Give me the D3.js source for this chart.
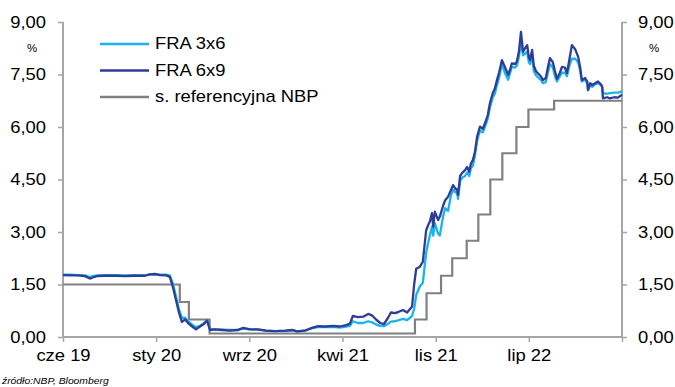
<!DOCTYPE html>
<html><head><meta charset="utf-8">
<script src="https://cdn.jsdelivr.net/npm/d3@7"></script>
<style>
body{margin:0;background:#fff;}
svg{display:block;font-family:"Liberation Sans",Arial,sans-serif;}
</style></head>
<body><svg id="c" width="675" height="387"></svg>
<script>
const xTickDates = ["2019-06-10","2020-01-21","2020-09-02","2021-04-15","2021-11-26","2022-07-09","2023-02-19"];
const xTickLabels = ["cze 19","sty 20","wrz 20","kwi 21","lis 21","lip 22",""];
const yTicks = [0,1.5,3,4.5,6,7.5,9];
const seriesNames = ["FRA 3x6","FRA 6x9","s. referencyjna NBP"];

const dates = ["2019-06-10","2019-06-27","2019-07-16","2019-08-02","2019-08-14","2019-08-21","2019-08-31","2019-09-19","2019-10-14","2019-11-07","2019-12-01","2019-12-25","2020-01-06","2020-01-18","2020-01-30","2020-02-14","2020-02-23","2020-03-02","2020-03-09","2020-03-16","2020-03-23","2020-03-31","2020-04-07","2020-04-17","2020-04-26","2020-05-06","2020-05-16","2020-05-23","2020-05-30","2020-06-11","2020-06-28","2020-07-17","2020-08-06","2020-08-18","2020-09-04","2020-09-23","2020-10-12","2020-11-03","2020-11-27","2020-12-16","2020-12-26","2021-01-14","2021-01-31","2021-02-15","2021-03-04","2021-03-23","2021-04-09","2021-04-24","2021-05-03","2021-05-10","2021-05-22","2021-06-04","2021-06-16","2021-06-25","2021-07-05","2021-07-15","2021-07-24","2021-08-03","2021-08-10","2021-08-20","2021-08-29","2021-09-08","2021-09-18","2021-09-25","2021-09-30","2021-10-05","2021-10-10","2021-10-19","2021-10-26","2021-11-03","2021-11-08","2021-11-12","2021-11-17","2021-11-20","2021-11-24","2021-12-02","2021-12-06","2021-12-14","2021-12-19","2021-12-26","2022-01-02","2022-01-07","2022-01-12","2022-01-17","2022-01-19","2022-01-24","2022-01-29","2022-02-05","2022-02-10","2022-02-15","2022-02-19","2022-02-24","2022-03-01","2022-03-06","2022-03-13","2022-03-20","2022-03-28","2022-04-01","2022-04-06","2022-04-13","2022-04-18","2022-04-23","2022-04-28","2022-05-05","2022-05-12","2022-05-20","2022-05-25","2022-05-29","2022-06-06","2022-06-10","2022-06-15","2022-06-20","2022-06-25","2022-06-30","2022-07-05","2022-07-09","2022-07-12","2022-07-17","2022-07-21","2022-07-26","2022-07-31","2022-08-07","2022-08-12","2022-08-19","2022-08-24","2022-08-29","2022-09-05","2022-09-10","2022-09-15","2022-09-22","2022-09-27","2022-10-04","2022-10-09","2022-10-16","2022-10-21","2022-10-29","2022-11-05","2022-11-10","2022-11-14","2022-11-22","2022-11-27","2022-11-29","2022-12-04","2022-12-09","2022-12-16","2022-12-23","2022-12-30","2023-01-02","2023-01-04","2023-01-14","2023-01-21","2023-01-31","2023-02-09","2023-02-19"];

const fra6x9 = [1.77,1.76,1.76,1.74,1.67,1.70,1.74,1.75,1.75,1.74,1.75,1.75,1.79,1.80,1.77,1.76,1.72,1.40,1.05,0.70,0.43,0.50,0.40,0.30,0.22,0.30,0.38,0.47,0.20,0.22,0.20,0.18,0.20,0.26,0.22,0.22,0.18,0.17,0.18,0.20,0.16,0.18,0.26,0.31,0.30,0.32,0.30,0.34,0.38,0.60,0.57,0.58,0.66,0.62,0.50,0.40,0.37,0.55,0.70,0.68,0.72,0.77,0.70,0.80,0.87,1.50,1.95,2.01,2.15,3.05,3.20,3.30,3.54,3.15,3.58,3.34,3.44,3.75,3.91,4.01,4.20,4.34,4.25,4.20,4.06,4.60,4.69,4.77,4.86,4.72,4.95,5.06,5.30,5.72,6.01,5.95,6.20,6.35,6.68,6.97,7.10,7.34,7.55,7.91,7.72,7.49,7.65,7.82,7.80,7.87,8.15,8.72,8.15,8.25,8.34,8.00,7.91,8.20,7.75,7.60,7.53,7.45,7.34,7.40,7.70,7.97,7.85,7.60,7.38,7.55,7.72,7.70,7.54,8.00,8.34,8.22,8.01,7.70,7.34,7.40,7.30,7.06,7.25,7.20,7.25,7.30,7.22,7.15,6.82,6.85,6.82,6.85,6.84,6.92];

const fra3x6 = [1.78,1.78,1.77,1.76,1.71,1.74,1.76,1.77,1.77,1.76,1.77,1.76,1.79,1.79,1.78,1.78,1.76,1.50,1.15,0.80,0.55,0.55,0.45,0.35,0.28,0.32,0.40,0.48,0.22,0.22,0.21,0.20,0.21,0.24,0.22,0.21,0.18,0.17,0.17,0.19,0.16,0.18,0.25,0.28,0.28,0.29,0.27,0.30,0.32,0.45,0.40,0.40,0.45,0.42,0.36,0.32,0.31,0.38,0.44,0.45,0.48,0.52,0.48,0.55,0.60,0.80,1.20,1.45,1.55,2.40,2.70,2.90,3.15,2.90,3.25,2.95,2.90,3.45,3.68,3.60,4.05,4.20,4.15,4.10,3.95,4.45,4.55,4.60,4.70,4.60,4.82,4.90,5.20,5.60,5.90,5.85,6.10,6.25,6.55,6.85,6.95,7.20,7.40,7.80,7.55,7.35,7.55,7.72,7.70,7.75,8.00,8.45,8.05,8.10,8.15,7.85,7.80,8.05,7.60,7.48,7.42,7.35,7.25,7.28,7.55,7.80,7.70,7.45,7.30,7.45,7.55,7.55,7.45,7.80,7.95,7.95,7.85,7.60,7.30,7.35,7.25,7.05,7.20,7.15,7.22,7.25,7.20,7.15,6.97,6.95,6.97,6.98,6.98,7.02];

const nbpDates = ["2019-06-10","2020-03-18","2020-04-09","2020-05-29","2021-10-07","2021-11-04","2021-12-09","2022-01-05","2022-02-09","2022-03-09","2022-04-07","2022-05-06","2022-06-09","2022-07-08","2022-09-08","2023-02-19"];
const nbpRate = [1.50,1.00,0.50,0.10,0.50,1.25,1.75,2.25,2.75,3.50,4.50,5.25,6.00,6.50,6.75,6.75];

const colors = ["#19B4EC","#2E3E96","#808080"];
const axisColor = "#A6A6A6";
const SX = 1.15; // horizontal text stretch seen in the reference

const parse = d3.timeParse("%Y-%m-%d");
const svg = d3.select("#c");
const L = 63, R = 622, T = 22, B = 337;
const x = d3.scaleTime().domain([parse(xTickDates[0]), parse(xTickDates[xTickDates.length-1])]).range([L, R]);
const y = d3.scaleLinear().domain([0, 9]).range([B, T]);
const fmt = d => d3.format(".2f")(d).replace(".", ",");

function stretch(sel) {
  sel.each(function() {
    const t = d3.select(this);
    const ax = +t.attr("x") || 0;
    t.attr("transform", `translate(${ax},0) scale(${SX},1) translate(${-ax},0)`);
  });
}

const gl = svg.append("g").attr("transform", `translate(${L},0)`)
  .call(d3.axisLeft(y).tickValues(yTicks).tickSize(5).tickPadding(12).tickFormat(fmt));
const gr = svg.append("g").attr("transform", `translate(${R},0)`)
  .call(d3.axisRight(y).tickValues(yTicks).tickSize(5).tickPadding(11).tickFormat(fmt));
const gb = svg.append("g").attr("transform", `translate(0,${B})`)
  .call(d3.axisBottom(x).tickValues(xTickDates.map(parse)).tickSize(5).tickPadding(8)
    .tickFormat((d,i) => xTickLabels[i]));
[gl, gr, gb].forEach(g => {
  g.select(".domain").attr("stroke", axisColor).attr("stroke-width", 2);
  g.selectAll(".tick line").attr("stroke", axisColor).attr("stroke-width", 1.5);
  g.selectAll(".tick text").attr("fill", "#000").style("font-size", "16px")
    .style("font-family", "'Liberation Sans',Arial,sans-serif").call(stretch);
});
gb.select(".domain").attr("d", `M${L},0H${R}`);
gl.select(".domain").attr("d", `M0,${T}V${B}`);
gr.select(".domain").attr("d", `M0,${T}V${B}`);

svg.append("text").attr("x", 32).attr("y", 52).attr("text-anchor", "middle").style("font-size", "10px").text("%").call(stretch);
svg.append("text").attr("x", 654).attr("y", 52).attr("text-anchor", "middle").style("font-size", "10px").text("%").call(stretch);

const nbpData = nbpDates.map((d,i) => ({d: parse(d), v: nbpRate[i]}));
svg.append("path").datum(nbpData)
  .attr("fill", "none").attr("stroke", colors[2]).attr("stroke-width", 2.2)
  .attr("d", d3.line().x(p => x(p.d)).y(p => y(p.v)).curve(d3.curveStepAfter));

const line = d3.line().x(p => x(p.d)).y(p => y(p.v));
const s36 = dates.map((d,i) => ({d: parse(d), v: fra3x6[i]}));
const s69 = dates.map((d,i) => ({d: parse(d), v: fra6x9[i]}));
svg.append("path").datum(s36).attr("fill","none").attr("stroke",colors[0]).attr("stroke-width",2.3)
  .attr("stroke-linejoin","round").attr("d", line);
svg.append("path").datum(s69).attr("fill","none").attr("stroke",colors[1]).attr("stroke-width",2.3)
  .attr("stroke-linejoin","round").attr("d", line);

const lg = svg.append("g");
seriesNames.forEach((n,i) => {
  const yy = 44 + i*26.5;
  lg.append("line").attr("x1",100).attr("x2",149).attr("y1",yy).attr("y2",yy)
    .attr("stroke",colors[i]).attr("stroke-width",2.5);
  lg.append("text").attr("x",155).attr("y",yy+5.5).style("font-size","16px").attr("fill","#000").text(n).call(stretch);
});

svg.append("text").attr("x",2).attr("y",384).style("font-size","9px").style("font-style","italic")
  .attr("fill","#000").text("źródło:NBP, Bloomberg").call(stretch);
</script></body></html>
